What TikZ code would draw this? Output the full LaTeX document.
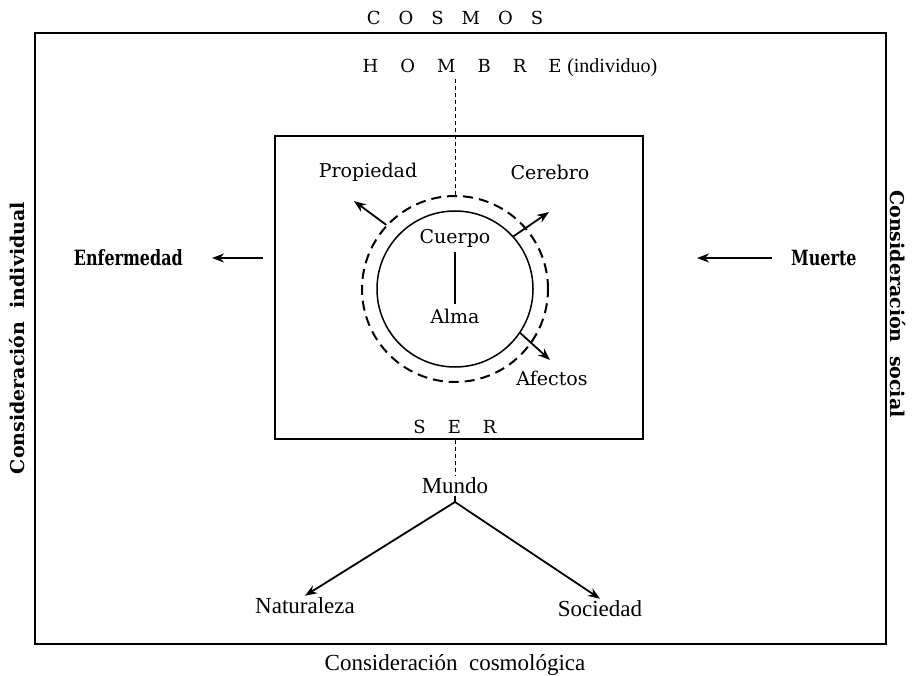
\documentclass[tikz,border=0pt]{standalone}
\usepackage{fontspec}
\setmainfont{DejaVu Serif}
\newfontfamily\condfont{Liberation Serif}
\newfontfamily\narrowfont{DejaVu Serif}[FakeStretch=0.76]
\usepackage{tikz}
\usetikzlibrary{arrows.meta, positioning}

\newcommand{\gapc}{\hspace{18pt}}
\newcommand{\gaph}{\hspace{22pt}}

\begin{document}
\begin{tikzpicture}[
    x=1pt, y=-1pt,
    every node/.style={font=\fontsize{19}{22}\selectfont, inner sep=2pt},
    boldlbl/.style={font=\narrowfont\fontsize{21}{24}\selectfont\bfseries},
    sidelbl/.style={font=\fontsize{19}{22}\selectfont\bfseries},
    condlbl/.style={font=\condfont\fontsize{23}{26}\selectfont},
    capslbl/.style={font=\fontsize{18}{21}\selectfont},
    frame/.style={draw, line width=2.8pt, inner sep=0pt},
    arr/.style={-{Stealth[length=12pt, width=9pt]}, line width=1.8pt},
    dashln/.style={dash pattern=on 4pt off 3pt, line width=1pt},
]
\useasboundingbox (0,0) rectangle (918,676);

% frames
\node[frame, minimum width=851pt, minimum height=611pt] (cosmosbox) at (460.5,338.5) {};
\node[frame, line width=2.2pt, minimum width=368pt, minimum height=303pt] (serbox) at (459,287.5) {};

\node[capslbl] (cosmos) at (455,18) {C\gapc O\gapc S\gapc M\gapc O\gapc S};
\node[capslbl] (hombre) at (510,68) {H\gaph O\gaph M\gaph B\gaph R\gaph E {\condfont\fontsize{20}{22}\selectfont(individuo)}};

% circles
\node[draw, circle, line width=1.5pt, minimum size=156pt, inner sep=0pt] (solido) at (455,289) {};
\node[draw, circle, line width=2pt, dash pattern=on 10pt off 6pt, minimum size=186pt, inner sep=0pt] (punteado) at (455,289) {};

\node (propiedad) at (368,172) {Propiedad};
\node (cerebro)   at (550,172) {Cerebro};
\node (cuerpo)    at (455,238) {Cuerpo};
\node (alma)      at (455,316) {Alma};
\node (afectos)   at (552,378) {Afectos};
\node[capslbl] (ser) at (455,427) {S\gaph E\gaph R};
\node[condlbl] (mundo)      at (455,486) {Mundo};
\node[condlbl] (naturaleza) at (305,606) {Naturaleza};
\node[condlbl] (sociedad)   at (600,609) {Sociedad};
\node[condlbl] (cosmol)     at (455,665) {Consideración\ \ cosmológica};

\node[boldlbl, anchor=east] (enfermedad) at (185,258) {Enfermedad};
\node[boldlbl, anchor=west] (muerte)     at (789,258) {Muerte};
\node[sidelbl, rotate=90]  (individual) at (17,338) {Consideración\ \ individual};
\node[sidelbl, rotate=-90] (social)     at (898,304) {Consideración\ \ social};

\coordinate (propA) at (354,201);
\coordinate (cerA)  at (549,212);
\coordinate (afeA)  at (550,360);
\coordinate (enfA)  at (263,258);
\coordinate (enfB)  at (212,258);
\coordinate (muA)   at (772,258);
\coordinate (muB)   at (697,258);
\coordinate (apex)  at (455,502);

% connectors
\draw[dashln] (punteado.north |- hombre.south) -- (punteado.north);
\draw[dashln] (mundo.north |- serbox.south) -- (mundo.north);
\draw[line width=1.2pt, shorten <=3pt, shorten >=2pt] (cuerpo.south) -- (alma.north);

\draw[arr] (punteado.137) -- (propA);
\draw[arr] (solido.42) -- (cerA);
\draw[arr] (solido.-34) -- (afeA);
\draw[arr] (enfA) -- (enfB);
\draw[arr] (muA) -- (muB);
\draw[line width=1.8pt] (mundo.south) -- (apex);
\draw[arr] (apex) -- (naturaleza.north);
\draw[arr] (apex) -- (sociedad.north);

\end{tikzpicture}
\end{document}
